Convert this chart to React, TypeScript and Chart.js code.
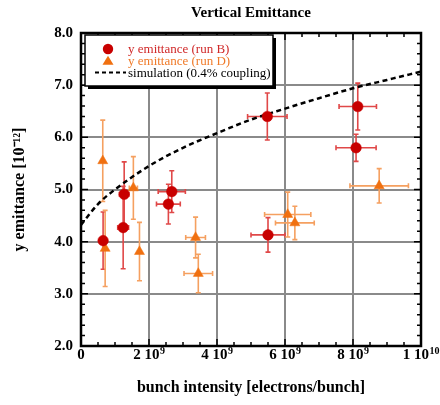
import React, { useEffect, useRef } from 'react';
import { Chart, registerables } from 'chart.js';

Chart.register(...registerables);

// ---- data ----
const runBX = [0.65e9, 1.24e9, 1.27e9, 2.57e9, 2.67e9, 5.48e9, 5.50e9, 8.09e9, 8.14e9];
const runBY = [4.02, 4.27, 4.91, 4.72, 4.96, 6.40, 4.13, 5.80, 6.59];
const runBYErr = [0.55, 0.79, 0.62, 0.38, 0.40, 0.45, 0.33, 0.26, 0.45];
const runBXErr = [0.05e9, 0.16e9, 0.14e9, 0.35e9, 0.40e9, 0.58e9, 0.50e9, 0.59e9, 0.55e9];

const runDX = [0.64e9, 0.71e9, 1.54e9, 1.72e9, 3.37e9, 3.45e9, 6.08e9, 6.29e9, 8.77e9];
const runDY = [5.55, 3.87, 5.03, 3.81, 4.08, 3.39, 4.52, 4.36, 5.07];
const runDYErr = [0.78, 0.73, 0.60, 0.56, 0.39, 0.37, 0.43, 0.32, 0.33];
const runDXErr = [0.05e9, 0.05e9, 0.12e9, 0.08e9, 0.29e9, 0.42e9, 0.68e9, 0.57e9, 0.86e9];

const simX = [0, 0.5e9, 1e9, 2e9, 3e9, 4e9, 5e9, 6e9, 7e9, 8e9, 9e9, 1e10];
const simY = [4.32, 4.72, 5.0, 5.45, 5.8, 6.08, 6.34, 6.55, 6.75, 6.94, 7.1, 7.26];

const xTickValues = [0, 2e9, 4e9, 6e9, 8e9, 1e10];
const xTickBase = ['0', '2 10', '4 10', '6 10', '8 10', '1 10'];
const xTickExp = ['', '9', '9', '9', '9', '10'];

const legendLabels = ['y emittance (run B)', 'y emittance (run D)', 'simulation (0.4% coupling)'];

const FONT = "'Liberation Serif', 'Times New Roman', serif";
const RED = '#c80000';
const RED_BAR = '#e04848';
const ORANGE = '#f07010';
const ORANGE_BAR = '#f5a060';

const errorBarPlugin = {
  id: 'errorBars',
  beforeDatasetsDraw(chart: any) {
    const ctx = chart.ctx;
    const xs = chart.scales.x;
    const ys = chart.scales.y;
    chart.data.datasets.forEach((ds: any) => {
      if (!ds.errX) return;
      ctx.save();
      ctx.strokeStyle = ds.barColor;
      ctx.lineWidth = 1.6;
      ds.data.forEach((p: any, i: number) => {
        const px = xs.getPixelForValue(p.x);
        const py = ys.getPixelForValue(p.y);
        const ey = ds.errY[i];
        const ex = ds.errX[i];
        const y1 = ys.getPixelForValue(p.y + ey);
        const y2 = ys.getPixelForValue(p.y - ey);
        const x1 = xs.getPixelForValue(p.x - ex);
        const x2 = xs.getPixelForValue(p.x + ex);
        const c = 2.5;
        ctx.beginPath();
        ctx.moveTo(px, y1); ctx.lineTo(px, y2);
        ctx.moveTo(px - c, y1); ctx.lineTo(px + c, y1);
        ctx.moveTo(px - c, y2); ctx.lineTo(px + c, y2);
        if (x2 - x1 > 6) {
          ctx.moveTo(x1, py); ctx.lineTo(x2, py);
          ctx.moveTo(x1, py - c); ctx.lineTo(x1, py + c);
          ctx.moveTo(x2, py - c); ctx.lineTo(x2, py + c);
        }
        ctx.stroke();
      });
      ctx.restore();
    });
  },
};

const framePlugin = {
  id: 'frame',
  afterDatasetsDraw(chart: any) {
    const ctx = chart.ctx;
    const { left, right, top, bottom } = chart.chartArea;
    const xs = chart.scales.x;
    const ys = chart.scales.y;
    ctx.save();
    ctx.strokeStyle = '#000';
    ctx.lineWidth = 1.5;
    ctx.beginPath();
    for (let k = 0; k <= 20; k++) {
      const v = k * 0.5e9;
      const px = xs.getPixelForValue(v);
      const len = k % 4 === 0 ? 7 : 4;
      ctx.moveTo(px, bottom); ctx.lineTo(px, bottom - len);
      ctx.moveTo(px, top); ctx.lineTo(px, top + len);
    }
    for (let k = 0; k <= 30; k++) {
      const v = 2 + k * 0.2;
      const py = ys.getPixelForValue(v);
      const len = k % 5 === 0 ? 7 : 4;
      ctx.moveTo(left, py); ctx.lineTo(left + len, py);
      ctx.moveTo(right, py); ctx.lineTo(right - len, py);
    }
    ctx.stroke();
    ctx.lineWidth = 2.5;
    ctx.strokeRect(left, top, right - left, bottom - top);

    // x tick labels with superscript exponents
    const baseFont = `bold 15px ${FONT}`;
    const expFont = `bold 10px ${FONT}`;
    ctx.fillStyle = '#000';
    ctx.textBaseline = 'alphabetic';
    ctx.textAlign = 'left';
    const baseY = bottom + 13;
    xTickValues.forEach((v, i) => {
      const px = xs.getPixelForValue(v);
      ctx.font = baseFont;
      const wb = ctx.measureText(xTickBase[i]).width;
      ctx.font = expFont;
      const we = xTickExp[i] ? ctx.measureText(xTickExp[i]).width + 0.5 : 0;
      const start = px - (wb + we) / 2;
      ctx.font = baseFont;
      ctx.fillText(xTickBase[i], start, baseY);
      if (xTickExp[i]) {
        ctx.font = expFont;
        ctx.fillText(xTickExp[i], start + wb + 0.5, baseY - 5.5);
      }
    });
    ctx.restore();
  },
};

const legendPlugin = {
  id: 'boxLegend',
  afterDraw(chart: any) {
    const ctx = chart.ctx;
    const { left, top } = chart.chartArea;
    const bx = left + 4;
    const by = top + 2;
    const bw = 188;
    const bh = 51;
    ctx.save();
    ctx.fillStyle = '#000';
    ctx.fillRect(bx + 3, by + 3, bw, bh);
    ctx.fillStyle = '#fff';
    ctx.fillRect(bx, by, bw, bh);
    ctx.strokeStyle = '#000';
    ctx.lineWidth = 1.5;
    ctx.strokeRect(bx, by, bw, bh);
    const colors = [RED, ORANGE, '#000'];
    const textColors = ['#d02828', '#f07a28', '#000'];
    const mx = bx + 23;
    ctx.font = `13px ${FONT}`;
    ctx.textBaseline = 'middle';
    ctx.textAlign = 'left';
    for (let i = 0; i < 3; i++) {
      const cy = by + 14 + i * 11.8;
      if (i === 0) {
        ctx.fillStyle = colors[0];
        ctx.beginPath();
        ctx.arc(mx, cy, 5.2, 0, Math.PI * 2);
        ctx.fill();
      } else if (i === 1) {
        ctx.fillStyle = colors[1];
        ctx.beginPath();
        ctx.moveTo(mx, cy - 5);
        ctx.lineTo(mx + 5.5, cy + 4);
        ctx.lineTo(mx - 5.5, cy + 4);
        ctx.closePath();
        ctx.fill();
      } else {
        ctx.strokeStyle = '#000';
        ctx.lineWidth = 2;
        ctx.setLineDash([4, 3]);
        ctx.beginPath();
        ctx.moveTo(bx + 10, cy);
        ctx.lineTo(bx + 41, cy);
        ctx.stroke();
        ctx.setLineDash([]);
      }
      ctx.fillStyle = textColors[i];
      ctx.fillText(legendLabels[i], bx + 43, cy + 0.5);
    }
    ctx.restore();
  },
};

export default function App() {
  const ref = useRef<HTMLCanvasElement | null>(null);
  useEffect(() => {
    if (!ref.current) return;
    const chart = new Chart(ref.current, {
      type: 'scatter',
      data: {
        datasets: [
          {
            label: legendLabels[0],
            data: runBX.map((x, i) => ({ x, y: runBY[i] })),
            pointStyle: 'circle',
            pointRadius: 5.3,
            backgroundColor: RED,
            borderColor: RED,
            borderWidth: 0.5,
            showLine: false,
            errX: runBXErr,
            errY: runBYErr,
            barColor: RED_BAR,
          } as any,
          {
            label: legendLabels[1],
            data: runDX.map((x, i) => ({ x, y: runDY[i] })),
            pointStyle: 'triangle',
            pointRadius: 5.8,
            backgroundColor: ORANGE,
            borderColor: ORANGE,
            borderWidth: 0.5,
            showLine: false,
            errX: runDXErr,
            errY: runDYErr,
            barColor: ORANGE_BAR,
          } as any,
          {
            label: legendLabels[2],
            data: simX.map((x, i) => ({ x, y: simY[i] })),
            showLine: true,
            borderColor: '#000',
            borderWidth: 2.5,
            borderDash: [5, 3.5],
            pointRadius: 0,
            cubicInterpolationMode: 'monotone',
            fill: false,
          } as any,
        ],
      },
      options: {
        animation: false,
        responsive: true,
        maintainAspectRatio: false,
        layout: { padding: { left: 0, right: 19, top: 0, bottom: 0 } },
        plugins: {
          legend: { display: false },
          tooltip: { enabled: false },
          title: {
            display: true,
            text: 'Vertical Emittance',
            color: '#000',
            font: { family: FONT, size: 15, weight: 'bold' },
            padding: { top: 4, bottom: 11 },
            fullSize: false,
          } as any,
        },
        scales: {
          x: {
            type: 'linear',
            min: 0,
            max: 1e10,
            afterFit: (s: any) => { s.height = 59; },
            ticks: {
              stepSize: 2e9,
              display: false,
            },
            grid: { color: '#8a8a8a', lineWidth: 2, drawTicks: false },
            border: { display: false },
            title: {
              display: true,
              text: 'bunch intensity [electrons/bunch]',
              color: '#000',
              font: { family: FONT, size: 16, weight: 'bold' },
              padding: { top: 0, bottom: 8 },
            },
          },
          y: {
            type: 'linear',
            min: 2,
            max: 8,
            afterFit: (s: any) => { s.width = 81; },
            ticks: {
              stepSize: 1,
              padding: 8,
              color: '#000',
              font: { family: FONT, size: 15, weight: 'bold' },
              callback: (v: any) => Number(v).toFixed(1),
            },
            grid: { color: '#8a8a8a', lineWidth: 2, drawTicks: false },
            border: { display: false },
            title: {
              display: true,
              text: 'y emittance [10\u207b\u00b9\u00b2]',
              color: '#000',
              font: { family: FONT, size: 16, weight: 'bold' },
              padding: { top: 10, bottom: 0 },
            },
          },
        },
      } as any,
      plugins: [errorBarPlugin, framePlugin, legendPlugin],
    });
    return () => chart.destroy();
  }, []);
  return (
    <div style={{ position: 'absolute', left: 0, top: 0, width: 440, height: 405 }}>
      <canvas ref={ref} />
    </div>
  );
}
